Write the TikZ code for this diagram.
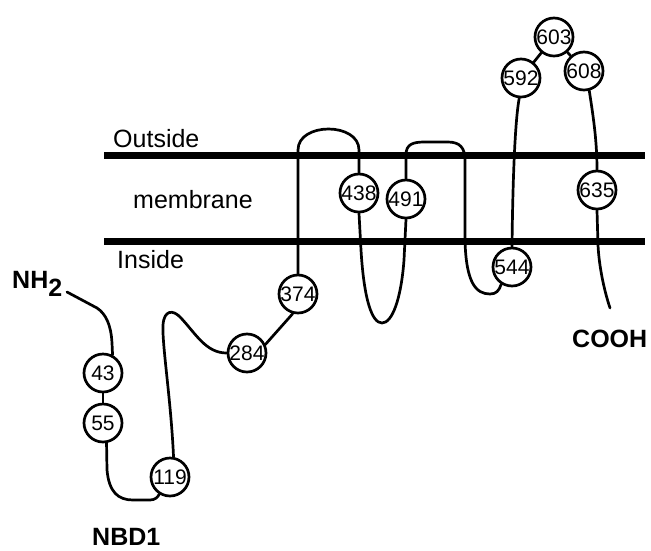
\documentclass[tikz,border=0pt]{standalone}
\usepackage{fontspec}
\setmainfont{Liberation Sans}
\begin{document}
\begin{tikzpicture}[x=1pt,y=-1pt,
  res/.style={circle,draw,line width=2.7pt,minimum size=38pt,inner sep=0pt,
    font=\fontsize{21}{21}\selectfont},
  chain/.style={line width=2.7pt,line cap=round,line join=round},
  bar/.style={line width=7pt},
  lbl/.style={anchor=base west,inner sep=0pt,font=\fontsize{25}{25}\selectfont},
  term/.style={anchor=base west,inner sep=0pt,font=\fontsize{25}{25}\selectfont\bfseries}]
\useasboundingbox (0,0) rectangle (651,550);

% membrane bilayer
\draw[bar] (104,155) -- (645,155);
\draw[bar] (104,241) -- (645,241);
\node[lbl] (out) at (113,147) {Outside};
\node[lbl] (mem) at (133,208) {membrane};
\node[lbl] (ins) at (117,268) {Inside};

% terminal labels
\node[term] (nh) at (12,288) {NH\raisebox{-8pt}{2}};
\node[term] (nbd) at (92,545) {NBD1};
\node[term] (cooh) at (572,347) {COOH};

% residues
\node[res] (c43) at (103,373) {43};
\node[res] (c55) at (103,423) {55};
\node[res] (c119) at (170,477) {119};
\node[res] (c284) at (247,353) {284};
\node[res] (c374) at (298,294) {374};
\node[res] (c438) at (359,193) {438};
\node[res] (c491) at (406,199) {491};
\node[res] (c544) at (512,267) {544};
\node[res] (c592) at (521,78) {592};
\node[res] (c603) at (554,37) {603};
\node[res] (c608) at (584,71) {608};
\node[res] (c635) at (597,190) {635};

\coordinate (nhend) at (67,292);
\coordinate (cend) at (610,308);

% polypeptide chain
\draw[chain] (nhend) -- (97,308) .. controls (106,314) and (111,325) .. (112,343) -- (c43.62);
\draw[chain] (c43) -- (c55);
\draw[chain] (c55.-80) -- (107,470) .. controls (109,492) and (118,500) .. (133,500)
  -- (150,500) .. controls (155,500) and (158,497) .. (c119.238);
\draw[chain] (c119.80) .. controls (171,400) and (162,345) .. (163,325)
  .. controls (164,310) and (173,309) .. (181,318)
  .. controls (196,334) and (206,353) .. (c284.west);
\draw[chain] (c284.25) -- (c374.255);
\draw[chain] (c374.north) -- (298,150) .. controls (298,122) and (359,122) .. (359,150) -- (c438.north);
\draw[chain] (c438.south) -- (361,250) .. controls (364,300) and (372,323) .. (382,323)
  .. controls (392,323) and (401,300) .. (404,260) -- (c491.south);
\draw[chain] (c491.north) -- (406,155) .. controls (406,144) and (413,142) .. (425,142)
  -- (448,142) .. controls (460,142) and (465,148) .. (465,160) -- (465,240)
  .. controls (466,283) and (476,294) .. (490,294) .. controls (496,294) and (499,291) .. (c544.238);
\draw[chain] (c544.north) .. controls (513,160) and (516,115) .. (c592.265);
\draw[chain] (c592) -- (c603);
\draw[chain] (c603) -- (c608);
\draw[chain] (c608.-75) .. controls (593,115) and (597,140) .. (c635.north);
\draw[chain] (c635.south) -- (598,245) .. controls (599,266) and (604,290) .. (cend);
\end{tikzpicture}
\end{document}
